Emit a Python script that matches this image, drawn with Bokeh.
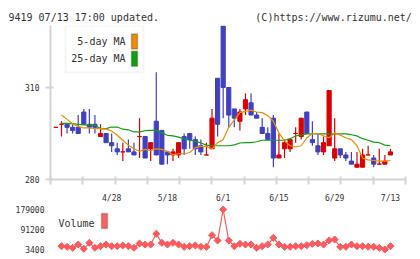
import math
import numpy as np
from bokeh.plotting import figure
from bokeh.models import Range1d, FixedTicker, Label, BoxAnnotation, ColumnDataSource, NumeralTickFormatter
from bokeh.layouts import column
from bokeh.embed import file_html
from bokeh.resources import INLINE

nan = float("nan")

dates = ["4/14", "4/15", "4/16", "4/17", "4/20", "4/21", "4/22", "4/23", "4/24", "4/27",
         "4/28", "4/30", "5/1", "5/7", "5/8", "5/11", "5/12", "5/13", "5/14", "5/15",
         "5/18", "5/19", "5/20", "5/21", "5/22", "5/25", "5/26", "5/27", "5/28", "5/29",
         "6/1", "6/2", "6/3", "6/4", "6/5", "6/8", "6/9", "6/10", "6/11", "6/12",
         "6/15", "6/16", "6/17", "6/18", "6/19", "6/22", "6/23", "6/24", "6/25", "6/26",
         "6/29", "6/30", "7/1", "7/2", "7/3", "7/6", "7/7", "7/8", "7/9", "7/10", "7/13"]

opens = [297, 298, 298, 297, 297, 302, 298, 298, 294, 295,
         292, 290, 289, 290, 289, 294, 294, 290, 299, 296,
         289, 288, 288, 294, 295, 293, 291, 288, 290, 313,
         330, 310, 303, 299, 303, 305, 301, 297, 295, 300,
         287, 290, 290, 295, 294, 302, 293, 291, 289, 291,
         287, 290, 288, 286, 284, 284, 288, 287, 285, 285, 288]
highs = [297, 299, 298, 298, 301, 303, 303, 301, 298, 295,
         295, 292, 292, 293, 292, 300, 294, 292, 315, 296,
         289, 290, 292, 295, 295, 294, 293, 292, 303, 313,
         330, 310, 303, 303, 308, 308, 302, 300, 297, 301,
         295, 293, 293, 297, 300, 302, 299, 295, 294, 309,
         300, 290, 289, 289, 289, 290, 291, 288, 290, 288, 290]
lows = [297, 294, 295, 295, 295, 298, 295, 295, 294, 292,
        289, 288, 286, 289, 288, 287, 287, 286, 288, 285,
        285, 286, 287, 288, 290, 288, 288, 288, 290, 294,
        300, 297, 297, 296, 301, 301, 300, 295, 293, 284,
        287, 287, 289, 292, 293, 295, 291, 288, 288, 291,
        286, 287, 286, 285, 284, 284, 288, 284, 285, 285, 288]
closes = [297, 298, 297, 296, 295, 298, 297, 297, 295, 292,
          291, 289, 289, 289, 288, 294, 287, 292, 288, 285,
          288, 289, 292, 290, 293, 290, 289, 288, 300, 298,
          310, 301, 300, 302, 306, 301, 300, 295, 293, 287,
          288, 292, 293, 295, 300, 295, 292, 289, 292, 309,
          290, 288, 287, 285, 285, 288, 288, 285, 285, 286, 289]

ma5 = [nan, 301.0, 299.6, 298.2, 297.3, 296.8, 296.8, 296.6, 296.6, 296.4,
       295.8, 294.4, 292.8, 291.2, 290.0, 289.2, 289.8, 289.4, 290.0, 289.8,
       289.2, 288.0, 288.4, 288.4, 288.8, 290.4, 290.8, 290.8, 290.0, 292.0,
       293.0, 297.0, 299.4, 301.8, 302.2, 302.6, 302.0, 301.8, 300.8, 299.0,
       295.2, 292.6, 291.0, 290.6, 291.0, 293.6, 295.0, 295.0, 294.2, 293.6,
       295.2, 294.4, 293.6, 293.0, 291.0, 287.0, 286.4, 286.2, 286.0, 286.0, 286.2]
ma25 = [nan, 298.3, 298.3, 298.2, 298.0, 297.8, 297.7, 297.6, 296.6, 296.6,
        297.1, 297.1, 296.4, 296.2, 295.5, 295.5, 295.9, 296.0, 296.0, 295.2,
        294.4, 294.2, 293.8, 293.2, 292.8, 292.5, 291.9, 291.2, 291.0, 291.0,
        291.0, 291.0, 291.3, 291.9, 292.0, 292.0, 292.3, 292.8, 292.8, 292.8,
        292.8, 292.8, 293.3, 294.2, 294.5, 294.9, 294.9, 294.9, 294.9, 294.9,
        294.9, 294.9, 294.9, 294.6, 294.2, 293.3, 292.8, 292.2, 292.0, 291.2, 291.0]

volume = [nan, 18000, 15100, 10700, 25300, 6300, 32700, 10700, 18000, 25300,
          18000, 18000, 21000, 18000, 10700, 29700, 25300, 25300, 72200, 32700,
          25300, 32700, 25300, 15100, 18000, 21000, 15100, 15100, 66300, 42900,
          179000, 42900, 18000, 28300, 25300, 25300, 10700, 18000, 25300, 54600,
          25300, 15100, 15100, 18000, 18000, 22400, 28300, 29700, 25300, 42900,
          47300, 15100, 15100, 25300, 18000, 18000, 15100, 15100, 10700, 3400, 18000]

price_ticks = [280, 310]
vol_ticks = [3400, 91200, 179000]
label_dates = ["4/28", "5/18", "6/1", "6/15", "6/29", "7/13"]

header_left = "9419 07/13 17:00 updated."
header_right = "(C)https://www.rizumu.net/"

FONT = "DejaVu Sans Mono"
RED = "#d80000"
BLUE = "#4040c0"
ORANGE = "#f08c00"
GREEN = "#10a010"
AXIS = "#d4d4d4"
TXT = "#333333"
VOLC = "#fb5a5f"

xs = list(range(len(dates)))
x_start, x_end = -0.97, 62.7

p = figure(width=420, height=205, x_range=Range1d(x_start, x_end),
           y_range=Range1d(price_ticks[0], max(highs) + 0.2),
           output_backend="svg", toolbar_location=None,
           min_border_left=50, min_border_right=15, min_border_top=25, min_border_bottom=21)
p.outline_line_color = None
p.xgrid.visible = False
p.ygrid.visible = False
p.background_fill_color = "white"
p.border_fill_color = "white"

p.title.text = header_left + "\u00a0" * 16 + header_right
p.title.text_font = FONT
p.title.text_font_size = "10px"
p.title.text_font_style = "normal"
p.title.text_color = TXT
p.title.align = "left"
p.title.vertical_align = "top"
p.title.offset = -42
p.title.standoff = 2

label_ticks = [dates.index(d) for d in label_dates]
p.xaxis.ticker = FixedTicker(ticks=label_ticks, minor_ticks=list(np.linspace(x_start, x_end, 12)))
p.xaxis.major_label_overrides = {t: d for t, d in zip(label_ticks, label_dates)}
p.xaxis.major_tick_line_color = None
p.xaxis.major_tick_out = 0
p.xaxis.major_tick_in = 0
p.xaxis.minor_tick_out = 5
p.xaxis.minor_tick_in = 3
p.xaxis.minor_tick_line_color = AXIS
p.xaxis.minor_tick_line_width = 2
p.xaxis.axis_line_color = AXIS
p.xaxis.axis_line_width = 2
p.xaxis.major_label_standoff = 9
p.xaxis.major_label_text_font = FONT
p.xaxis.major_label_text_font_size = "8px"
p.xaxis.major_label_text_color = TXT

p.yaxis.ticker = FixedTicker(ticks=price_ticks)
p.yaxis.major_tick_out = 5
p.yaxis.major_tick_in = 3
p.yaxis.major_tick_line_color = AXIS
p.yaxis.major_tick_line_width = 2
p.yaxis.minor_tick_line_color = None
p.yaxis.axis_line_color = AXIS
p.yaxis.axis_line_width = 2
p.yaxis.major_label_standoff = 6
p.yaxis.major_label_text_font = FONT
p.yaxis.major_label_text_font_size = "8px"
p.yaxis.major_label_text_color = TXT

colors = [RED if c >= o else BLUE for o, c in zip(opens, closes)]
src = ColumnDataSource(dict(
    x=xs, high=highs, low=lows,
    top=[max(o, c) for o, c in zip(opens, closes)],
    bottom=[min(o, c) for o, c in zip(opens, closes)],
    color=colors))
p.segment(x0="x", y0="high", x1="x", y1="low", line_color="color", line_width=1.2, source=src)
p.vbar(x="x", width=0.75, top="top", bottom="bottom", fill_color="color", line_color="color",
       line_width=1, source=src)

p.line(xs, ma25, line_color=GREEN, line_width=1.2)
p.line(xs, ma5, line_color=ORANGE, line_width=1.2)

# legend (label left, swatch right)
p.add_layout(BoxAnnotation(left=15, right=93, top=154, bottom=107,
                           left_units="screen", right_units="screen", top_units="screen", bottom_units="screen",
                           fill_color="white", fill_alpha=1, line_color="#dddddd", line_width=2))
for txt, yc, col in [("5-day MA", 138, ORANGE), ("25-day MA", 120.7, GREEN)]:
    p.add_layout(Label(x=75, y=yc, x_units="screen", y_units="screen", text=txt,
                       text_align="right", text_baseline="middle", text_font=FONT,
                       text_font_size="10px", text_color=TXT))
    p.add_layout(BoxAnnotation(left=81, right=87, top=yc + 7.5, bottom=yc - 7.5,
                               left_units="screen", right_units="screen", top_units="screen", bottom_units="screen",
                               fill_color=col, fill_alpha=1, line_color="#333333", line_width=1.5))

# volume panel
vv = [v for v in volume if not math.isnan(v)]
vmin, vmax = min(vv), max(vv)
span = vmax - vmin
v = figure(width=420, height=54, x_range=p.x_range,
           y_range=Range1d(vmin - 0.1 * span, vmax + 0.1 * span),
           x_axis_location=None, output_backend="svg", toolbar_location=None,
           min_border_left=50, min_border_right=15, min_border_top=0, min_border_bottom=6)
v.outline_line_color = None
v.xgrid.visible = False
v.ygrid.visible = False
v.yaxis.ticker = FixedTicker(ticks=vol_ticks)
v.yaxis.formatter = NumeralTickFormatter(format="0")
v.yaxis.axis_line_color = None
v.yaxis.major_tick_line_color = None
v.yaxis.minor_tick_line_color = None
v.yaxis.major_tick_out = 0
v.yaxis.major_tick_in = 0
v.yaxis.major_label_standoff = 6
v.yaxis.major_label_text_font = FONT
v.yaxis.major_label_text_font_size = "8px"
v.yaxis.major_label_text_color = TXT

v.line(xs, volume, line_color=VOLC, line_width=1.2)
v.scatter(xs, volume, marker="square", angle=math.pi / 4, size=5, fill_color=VOLC, line_color=VOLC)

v.add_layout(Label(x=8, y=30.3, x_units="screen", y_units="screen", text="Volume",
                   text_align="left", text_baseline="middle", text_font=FONT,
                   text_font_size="10px", text_color=TXT))
v.add_layout(BoxAnnotation(left=51, right=57, top=40, bottom=25,
                           left_units="screen", right_units="screen", top_units="screen", bottom_units="screen",
                           fill_color="#ff6060", fill_alpha=1, line_color="#444444", line_width=1.5))

layout = column(p, v, spacing=0)
open("out.html", "w").write(file_html(layout, INLINE))
